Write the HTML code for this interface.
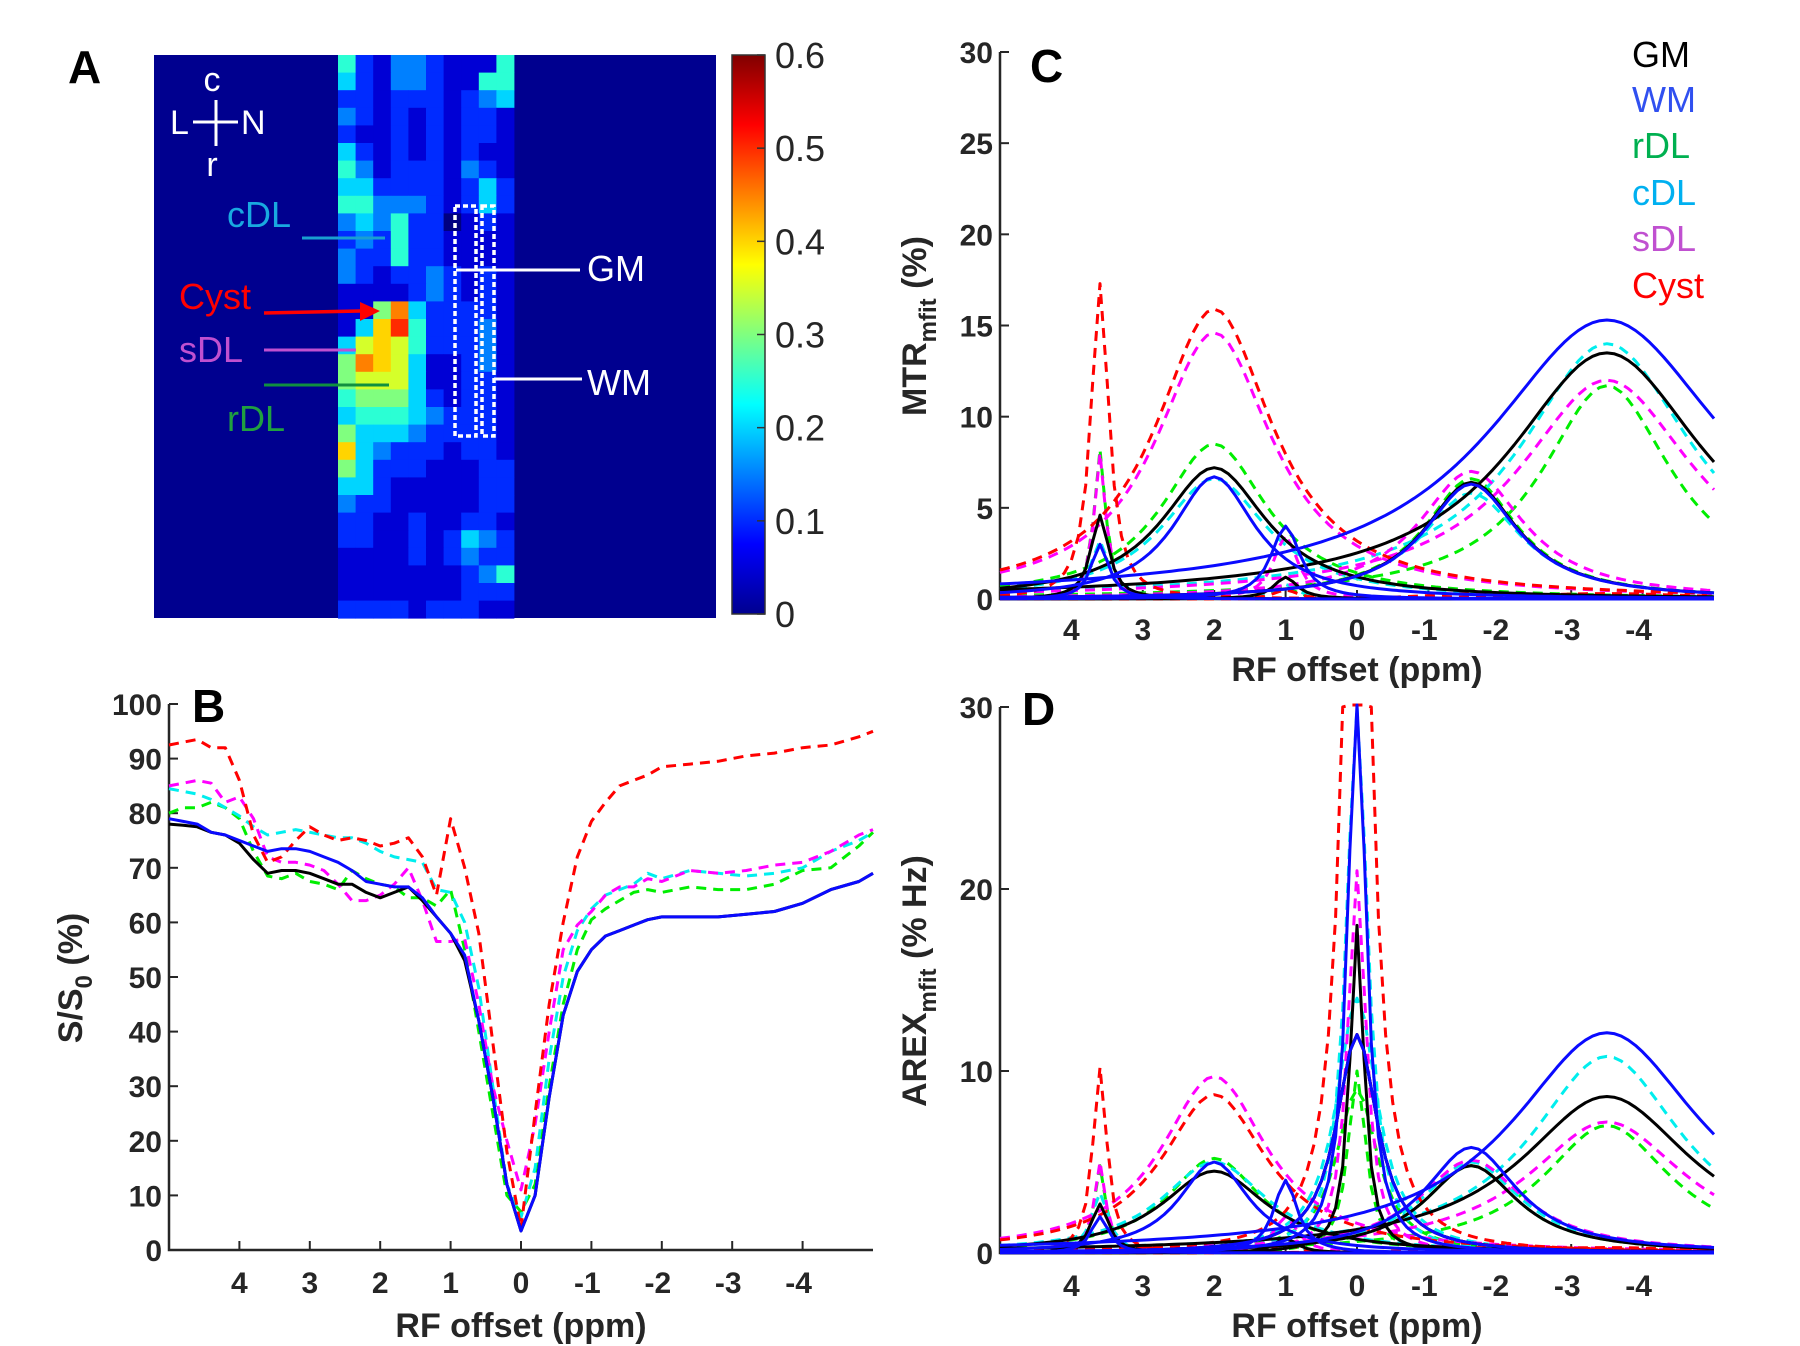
<!DOCTYPE html>
<html><head><meta charset="utf-8"><style>
html,body{margin:0;padding:0;background:#fff;}
svg{display:block;font-family:"Liberation Sans",sans-serif;}
.tk{font-weight:bold;font-size:30px;fill:#262626;}
.al{font-weight:bold;font-size:34px;fill:#262626;}
.pl{font-weight:bold;font-size:46px;fill:#000;}
</style></head><body>
<svg id="fig" width="1800" height="1346" viewBox="0 0 1800 1346" xmlns="http://www.w3.org/2000/svg">
<defs>
<linearGradient id="jet" x1="0" y1="1" x2="0" y2="0">
<stop offset="0" stop-color="#00008f"/><stop offset="0.125" stop-color="#0000ff"/><stop offset="0.375" stop-color="#00ffff"/><stop offset="0.625" stop-color="#ffff00"/><stop offset="0.875" stop-color="#ff0000"/><stop offset="1" stop-color="#800000"/>
</linearGradient>
</defs>
<g id="panelA">
<text class="pl" x="68" y="83">A</text>
<rect x="154" y="55" width="562" height="563" fill="#00008f"/>
<g id="heat"></g>
<rect x="732" y="55" width="33" height="559" fill="url(#jet)" stroke="#333" stroke-width="1.5"/>
<g id="cbticks"></g>
<g fill="#fff" font-size="34">
<text x="212" y="91" text-anchor="middle">c</text>
<text x="170" y="134">L</text>
<text x="241" y="134">N</text>
<text x="212" y="176" text-anchor="middle">r</text>
<line x1="193" y1="122" x2="238" y2="122" stroke="#fff" stroke-width="3"/>
<line x1="216" y1="100" x2="216" y2="146" stroke="#fff" stroke-width="3"/>
</g>
<rect x="455" y="206" width="21" height="230" fill="none" stroke="#fff" stroke-width="3.5" stroke-dasharray="5,3"/>
<rect x="482" y="206" width="12" height="230" fill="none" stroke="#fff" stroke-width="3.5" stroke-dasharray="5,3"/>
<line x1="456" y1="270" x2="580" y2="270" stroke="#fff" stroke-width="3"/>
<line x1="494" y1="379" x2="582" y2="379" stroke="#fff" stroke-width="3"/>
<text x="587" y="281" fill="#fff" font-size="36">GM</text>
<text x="587" y="395" fill="#fff" font-size="36">WM</text>
<text x="227" y="227" fill="#19a9e0" font-size="36">cDL</text>
<line x1="302" y1="238" x2="385" y2="238" stroke="#19a0d0" stroke-width="3"/>
<text x="179" y="309" fill="#ff0000" font-size="36">Cyst</text>
<line x1="264" y1="313" x2="360" y2="311" stroke="#ff0000" stroke-width="3.5"/>
<polygon points="360,302 380,311 360,321" fill="#ff0000"/>
<text x="179" y="362" fill="#c050d0" font-size="36">sDL</text>
<line x1="264" y1="350" x2="356" y2="350" stroke="#c050d0" stroke-width="3"/>
<line x1="264" y1="385" x2="389" y2="385" stroke="#109040" stroke-width="3"/>
<text x="227" y="431" fill="#20a040" font-size="36">rDL</text>
</g>
<g id="panelB"></g>
<g id="panelC"></g>
<g id="panelD"></g>
<g font-size="36">
<text x="1632" y="67" fill="#000">GM</text>
<text x="1632" y="112" fill="#3050f0">WM</text>
<text x="1632" y="158" fill="#00b050">rDL</text>
<text x="1632" y="205" fill="#00b0f0">cDL</text>
<text x="1632" y="251" fill="#c050d0">sDL</text>
<text x="1632" y="298" fill="#ff0000">Cyst</text>
</g>
</svg>
<script>
// ---------- heatmap (panel A) ----------
const heatRows = [
"5213321115","4213321155","2212221234","3212121221","2112121221","4212121211",
"5312221321","4422221242","5533321242","3435220121","2325221111","3225221111",
"3212232121","1111232121","1169422221","148a522231","4787522231","6987411231",
"6777411221","5666421221","4555432221","6444322221","8432221221","6422211122",
"4421111122","3221111122","2211211221","2211212432","1111212322","1111111235",
"1111111222","2222122211"];
const heatScale = "0123456789a";
// ---------- panel B data ----------
const ppmB = [5,4.8,4.6,4.4,4.2,4,3.8,3.6,3.4,3.2,3,2.8,2.6,2.4,2.2,2,1.8,1.6,1.4,1.2,1,0.8,0.6,0.4,0.2,0,-0.2,-0.4,-0.6,-0.8,-1,-1.2,-1.4,-1.6,-1.8,-2,-2.4,-2.8,-3.2,-3.6,-4,-4.4,-4.8,-5];
const gmB = [78,77.8,77.5,76.5,76,74.5,71.5,69,69.5,69.5,69,68,67,67,65.5,64.5,65.5,66.5,64,61,58,53,42,28,12,3.5,10,28,43,51,55,57.5,58.5,59.5,60.5,61,61,61,61.5,62,63.5,66,67.5,69];
const wmB = [79,78.5,78,76.5,76,75,74,73,73.5,73.5,73,72,71,69.5,67.5,67,66.5,66.5,64.5,61,58,54,42,28,12,3.5,10,28,43,51,55,57.5,58.5,59.5,60.5,61,61,61,61.5,62,63.5,66,67.5,69];
const rdlB = [80,81,81,82,81,79,73,68.5,68,69,67.5,67,66,69.5,68,67,66.5,64.5,64.5,63,66,55,40,25,10,7,12,30,45,55,60.5,62.5,64,65.5,66,65.5,66.5,66,66,67,69.5,70,74,76.5];
const cdlB = [84.5,84,83.5,82.5,81,79.5,77.5,76,76.5,77,76.5,76,75.5,75.5,74.5,73,72,71.5,71,66,65.5,60,48,30,12,6,15,35,50,58.5,62.5,65,66,67,69,68,69.5,69,68.5,69,70,73,75,76.5];
const sdlB = [85,85.5,86,85.5,82,83,79,72,71,71,70.5,69.5,67,64,64,65,67,70,64,56.5,56.5,57,45,30,20,11,23,40,55,59.5,62,65,66.5,66.5,68,67.5,69.5,69,69.5,70.5,71,73,76,77];
const cystB = [92.5,93,93.5,92,92,86,76,71,72,75,77.5,76,75,75.5,75,74,74.5,75.5,72,65,79,70,58,38,18,4,25,45,60,72,78.5,82,85,86,87,88.5,89,89.5,90.5,91,92,92.5,94,95];
const ticksBy = [0,10,20,30,40,50,60,70,80,90,100];
const ticksX = [4,3,2,1,0,-1,-2,-3,-4];
// ---------- panel C fitted components (amplitude %, centre ppm, half-width ppm) ----------
const tissues = ["GM","WM","rDL","cDL","sDL","Cyst"];
const centresC = [3.6,2.0,1.0,-1.6,-3.5];
const ampC_GM   = [4.6,7.2,1.2,6.4,13.5];
const ampC_WM   = [3.0,6.7,4.0,6.3,15.3];
const ampC_rDL  = [8.2,8.5,0.6,6.6,11.7];
const ampC_cDL  = [3.2,6.6,0.8,5.8,14.0];
const ampC_sDL  = [8.0,14.6,3.5,7.0,12.0];
const ampC_Cyst = [17.3,15.9,0.5,0.3,0.3];
const hwC_GM   = [0.15,0.9,0.2,0.8,1.68];
const hwC_WM   = [0.15,0.7,0.25,0.8,2.03];
const hwC_rDL  = [0.1,0.9,0.2,0.8,1.12];
const hwC_cDL  = [0.15,0.9,0.2,0.85,1.48];
const hwC_sDL  = [0.1,1.0,0.2,0.9,1.5];
const hwC_Cyst = [0.15,1.0,0.2,0.8,1.5];
const ticksCy = [0,5,10,15,20,25,30];
// ---------- panel D fitted components ----------
const centresD = [3.6,2.0,1.0,0,0,-1.6,-3.5];
const ampD_GM   = [2.7,4.5,0.8,18,12,4.8,8.6];
const ampD_WM   = [2.0,5.0,4.0,32,12,5.8,12.1];
const ampD_rDL  = [4.8,5.2,0.5,10,9,4.8,7.0];
const ampD_cDL  = [3.3,5.0,0.6,30,14,5.0,10.8];
const ampD_sDL  = [5.0,9.7,2.0,21,12,5.1,7.2];
const ampD_Cyst = [10.2,8.7,0.5,60,12,0.3,0.3];
const hwD_GM   = [0.15,0.9,0.2,0.12,0.35,0.8,1.47];
const hwD_WM   = [0.15,0.6,0.2,0.15,0.35,0.8,1.62];
const hwD_rDL  = [0.1,0.8,0.2,0.15,0.35,0.8,1.1];
const hwD_cDL  = [0.15,0.9,0.2,0.18,0.35,0.85,1.3];
const hwD_sDL  = [0.1,0.9,0.2,0.15,0.35,0.9,1.34];
const hwD_Cyst = [0.12,0.9,0.2,0.2,0.35,0.8,1.5];
const ticksDy = [0,10,20,30];

const NS = "http://www.w3.org/2000/svg";
function mk(tag, attrs, parent){const e=document.createElementNS(NS,tag);for(const k in attrs)e.setAttribute(k,attrs[k]);parent.appendChild(e);return e;}
function jet(v){const t=Math.max(0,Math.min(1,v/0.6));const c=x=>Math.round(255*Math.max(0,Math.min(1,1.5-Math.abs(4*t-x))));return "rgb("+c(3)+","+c(2)+","+c(1)+")";}

// heatmap
const heat=document.getElementById("heat");
heatRows.forEach((row,r)=>{for(let c=0;c<row.length;c++){const v=heatScale.indexOf(row[c])*0.05;
 const cell=mk("rect",{x:338+c*17.6,y:55+r*17.6,width:18,height:18,fill:jet(v)},heat);
 
 }});
const cbt=document.getElementById("cbticks");
[0,0.1,0.2,0.3,0.4,0.5,0.6].forEach(v=>{const y=614-v/0.6*559;
 mk("line",{x1:757,y1:y,x2:765,y2:y,stroke:"#333","stroke-width":1.5},cbt);
 const t=mk("text",{x:775,y:y+13,"font-size":36,fill:"#262626"},cbt);t.textContent=v===0?"0":v.toFixed(1);
 
 });

function axes(g,L,R,T,B,ymax,yt,xLabelY,ylab,ysub,yrest,ylx,yly,xly,letter,lx,ly){
 const sx=p=>L+(5-p)/10*(R-L), sy=v=>B-v/ymax*(B-T);
 const ax=mk("path",{d:`M${L},${T}V${B}H${R}`,fill:"none",stroke:"#262626","stroke-width":2.5},g);
 
 
 yt.forEach(v=>{mk("line",{x1:L,y1:sy(v),x2:L+9,y2:sy(v),stroke:"#262626","stroke-width":2},g);
  const t=mk("text",{x:L-7,y:sy(v)+11,"text-anchor":"end",class:"tk"},g);t.textContent=v;
  
  });
 ticksX.forEach(p=>{mk("line",{x1:sx(p),y1:B,x2:sx(p),y2:B-9,stroke:"#262626","stroke-width":2},g);
  const t=mk("text",{x:sx(p)-(p<0?4:0),y:xLabelY,"text-anchor":"middle",class:"tk"},g);t.textContent=p;
  
  });
 const xl=mk("text",{x:(L+R)/2,y:xly,"text-anchor":"middle",class:"al"},g);xl.textContent="RF offset (ppm)";
 
 
 const yl=mk("text",{x:ylx,y:yly,"text-anchor":"middle",class:"al",transform:`rotate(-90 ${ylx} ${yly})`},g);
 
 
 yl.appendChild(document.createTextNode(ylab));
 const s=mk("tspan",{"font-size":24,dy:10},yl);s.textContent=ysub;
 const r=mk("tspan",{dy:-10},yl);r.textContent=yrest;
 const pl=mk("text",{x:lx,y:ly,class:"pl"},g);pl.textContent=letter;
 
 
 return {sx,sy};
}
const styles={GM:["#000000",null],WM:["#0a0aff",null],rDL:["#00ee00","10,7"],cDL:["#00eeee","10,7"],sDL:["#ff00ff","10,7"],Cyst:["#ff0000","10,7"]};
function line(g,pts,name,T){const st=styles[name];
 const p=mk("polyline",{points:pts.map(q=>q[0].toFixed(1)+","+Math.max(T-2,q[1]).toFixed(1)).join(" "),fill:"none",stroke:st[0],"stroke-width":3,"stroke-linejoin":"round"},g);
 if(st[1])p.setAttribute("stroke-dasharray",st[1]);
 
 }

// Panel B
(function(){const g=document.getElementById("panelB");
 const a=axes(g,169,873,704,1250,100,ticksBy,1293,"S/S","0"," (%)",82,978,1337,"B",192,722);
 const order=[["rDL",rdlB],["cDL",cdlB],["sDL",sdlB],["Cyst",cystB],["GM",gmB],["WM",wmB]];
 order.forEach(([n,arr])=>line(g,ppmB.map((p,i)=>[a.sx(p),a.sy(arr[i])]),n,704));})();

function lor(A,c,h,p){return A/(1+Math.pow((p-c)/h,2));}
function drawFits(g,a,centres,amps,hws,T){
 const grid=[];for(let i=0;i<=100;i++)grid.push(5-i*0.1);
 const ord=["rDL","cDL","sDL","Cyst","GM","WM"];
 ord.forEach(n=>{const A=amps[n],H=hws[n];
  centres.forEach((c,k)=>{line(g,grid.map(p=>[a.sx(p),a.sy(lor(A[k],c,H[k],p))]),n,T);});});}
// Panel C
(function(){const g=document.getElementById("panelC");
 const a=axes(g,1000,1714,52,599,30,ticksCy,640,"MTR","mfit"," (%)",926,326,681,"C",1030,82);
 drawFits(g,a,centresC,{GM:ampC_GM,WM:ampC_WM,rDL:ampC_rDL,cDL:ampC_cDL,sDL:ampC_sDL,Cyst:ampC_Cyst},
  {GM:hwC_GM,WM:hwC_WM,rDL:hwC_rDL,cDL:hwC_cDL,sDL:hwC_sDL,Cyst:hwC_Cyst},52);})();
// Panel D
(function(){const g=document.getElementById("panelD");
 const a=axes(g,1000,1714,707,1253,30,ticksDy,1296,"AREX","mfit"," (% Hz)",926,981,1337,"D",1022,725);
 drawFits(g,a,centresD,{GM:ampD_GM,WM:ampD_WM,rDL:ampD_rDL,cDL:ampD_cDL,sDL:ampD_sDL,Cyst:ampD_Cyst},
  {GM:hwD_GM,WM:hwD_WM,rDL:hwD_rDL,cDL:hwD_cDL,sDL:hwD_sDL,Cyst:hwD_Cyst},707);})();
</script>
</body></html>
